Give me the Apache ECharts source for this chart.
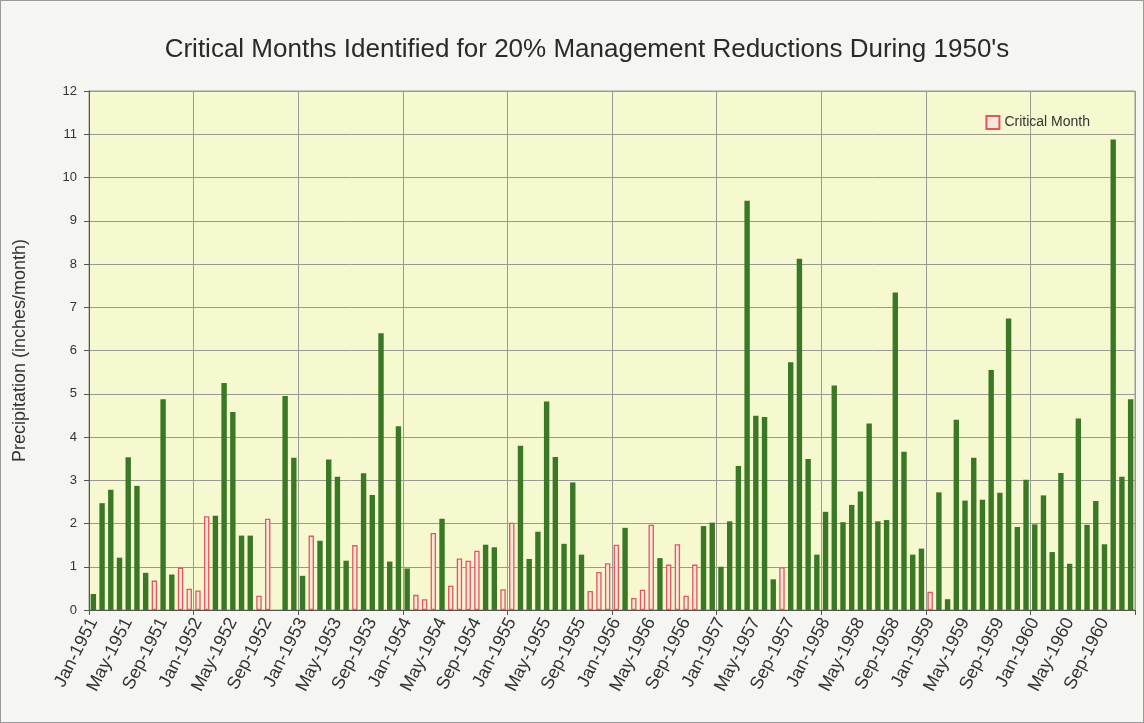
<!DOCTYPE html>
<html>
<head>
<meta charset="utf-8">
<title>Critical Months 1950's</title>
<script src="https://cdn.jsdelivr.net/npm/echarts@6/dist/echarts.min.js"></script>
<style>
  html, body { margin: 0; padding: 0; background: #f5f5f2; }
  #chart {
    width: 1144px;
    height: 723px;
    box-sizing: border-box;
    border: 1px solid #9a9a9a;
  }
</style>
</head>
<body>
<div id="chart"></div>
<script>
// month labels Jan-1951 .. Dec-1960
const monthNames = ['Jan', 'Feb', 'Mar', 'Apr', 'May', 'Jun', 'Jul', 'Aug', 'Sep', 'Oct', 'Nov', 'Dec'];
const years = [1951, 1952, 1953, 1954, 1955, 1956, 1957, 1958, 1959, 1960];
const months = [];
years.forEach(y => monthNames.forEach(m => months.push(m + '-' + y)));

// monthly precipitation (inches/month), one row per year
const precip1951 = [0.37, 2.47, 2.78, 1.21, 3.53, 2.87, 0.86, 0.68, 4.87, 0.82, 0.98, 0.49];
const precip1952 = [0.45, 2.17, 2.18, 5.25, 4.58, 1.72, 1.72, 0.33, 2.11, 0, 4.95, 3.52];
const precip1953 = [0.79, 1.72, 1.60, 3.48, 3.08, 1.14, 1.50, 3.16, 2.66, 6.40, 1.12, 4.25];
const precip1954 = [0.96, 0.35, 0.25, 1.78, 2.11, 0.56, 1.19, 1.14, 1.37, 1.51, 1.45, 0.48];
const precip1955 = [2.02, 3.80, 1.18, 1.81, 4.82, 3.54, 1.53, 2.95, 1.28, 0.44, 0.88, 1.08];
const precip1956 = [1.51, 1.90, 0.28, 0.47, 1.97, 1.20, 1.05, 1.52, 0.33, 1.05, 1.94, 2.02];
const precip1957 = [1.00, 2.05, 3.33, 9.46, 4.49, 4.46, 0.71, 0.99, 5.73, 8.12, 3.49, 1.28];
const precip1958 = [2.27, 5.19, 2.03, 2.43, 2.74, 4.31, 2.05, 2.08, 7.34, 3.66, 1.28, 1.42];
const precip1959 = [0.42, 2.72, 0.25, 4.40, 2.53, 3.52, 2.55, 5.55, 2.71, 6.74, 1.92, 3.01];
const precip1960 = [1.98, 2.65, 1.34, 3.17, 1.07, 4.43, 1.97, 2.52, 1.52, 10.88, 3.08, 4.87];

// 1 = critical month (drawn as outlined bar)
const crit1951 = [0, 0, 0, 0, 0, 0, 0, 1, 0, 0, 1, 1];
const crit1952 = [1, 1, 0, 0, 0, 0, 0, 1, 1, 0, 0, 0];
const crit1953 = [0, 1, 0, 0, 0, 0, 1, 0, 0, 0, 0, 0];
const crit1954 = [0, 1, 1, 1, 0, 1, 1, 1, 1, 0, 0, 1];
const crit1955 = [1, 0, 0, 0, 0, 0, 0, 0, 0, 1, 1, 1];
const crit1956 = [1, 0, 1, 1, 1, 0, 1, 1, 1, 1, 0, 0];
const crit1957 = [0, 0, 0, 0, 0, 0, 0, 1, 0, 0, 0, 0];
const crit1958 = [0, 0, 0, 0, 0, 0, 0, 0, 0, 0, 0, 0];
const crit1959 = [1, 0, 0, 0, 0, 0, 0, 0, 0, 0, 0, 0];
const crit1960 = [0, 0, 0, 0, 0, 0, 0, 0, 0, 0, 0, 0];

const yTicks = [0, 1, 2, 3, 4, 5, 6, 7, 8, 9, 10, 11, 12];

const precip = [].concat(precip1951, precip1952, precip1953, precip1954, precip1955,
  precip1956, precip1957, precip1958, precip1959, precip1960);
const critical = [].concat(crit1951, crit1952, crit1953, crit1954, crit1955,
  crit1956, crit1957, crit1958, crit1959, crit1960);

const normalData = precip.map((v, i) => (critical[i] ? null : v));
const criticalData = precip.map((v, i) => (critical[i] ? v : null));

const gridColor = '#9a9a94';
const myChart = echarts.init(document.getElementById('chart'), null, { renderer: 'canvas' });

myChart.setOption({
  animation: false,
  backgroundColor: 'transparent',
  textStyle: { fontFamily: 'Liberation Sans, Arial, sans-serif' },
  title: {
    text: "Critical Months Identified for 20% Management Reductions During 1950's",
    left: 581,
    textAlign: 'center',
    top: 31,
    textStyle: { fontSize: 26, fontWeight: 'normal', color: '#2a2a2a' }
  },
  legend: {
    data: ['Critical Month'],
    right: 48,
    top: 109,
    icon: 'rect',
    itemWidth: 13,
    itemHeight: 13,
    itemGap: 8,
    textStyle: { fontSize: 14, color: '#333' }
  },
  grid: {
    left: 88,
    right: 8,
    top: 90,
    bottom: 112,
    show: true,
    backgroundColor: '#f6f8cf',
    borderColor: gridColor,
    borderWidth: 1
  },
  xAxis: {
    type: 'category',
    data: months,
    axisLine: { lineStyle: { color: '#555' } },
    axisTick: { show: true, interval: 11, length: 5, lineStyle: { color: '#555' } },
    splitLine: { show: true, interval: 11, lineStyle: { color: gridColor, width: 1 } },
    axisLabel: {
      interval: 3,
      rotate: 63,
      fontSize: 18,
      color: '#333',
      margin: 9
    }
  },
  yAxis: {
    type: 'value',
    min: yTicks[0],
    max: yTicks[yTicks.length - 1],
    interval: 1,
    name: 'Precipitation (inches/month)',
    nameLocation: 'middle',
    nameGap: 60,
    nameTextStyle: { fontSize: 18, color: '#333' },
    axisLine: { show: true, lineStyle: { color: '#555' } },
    axisTick: { show: true, length: 5, lineStyle: { color: '#555' } },
    splitLine: { show: true, lineStyle: { color: gridColor, width: 1 } },
    axisLabel: { fontSize: 13, color: '#333', margin: 12 }
  },
  series: [
    {
      name: 'Precipitation',
      type: 'bar',
      data: normalData,
      barWidth: '62%',
      barGap: '-100%',
      itemStyle: { color: '#3b7826' }
    },
    {
      name: 'Critical Month',
      type: 'bar',
      data: criticalData,
      barWidth: '62%',
      itemStyle: { color: '#fbe6d8', borderColor: '#e0585f', borderWidth: 1.3 }
    }
  ]
});
</script>
</body>
</html>
